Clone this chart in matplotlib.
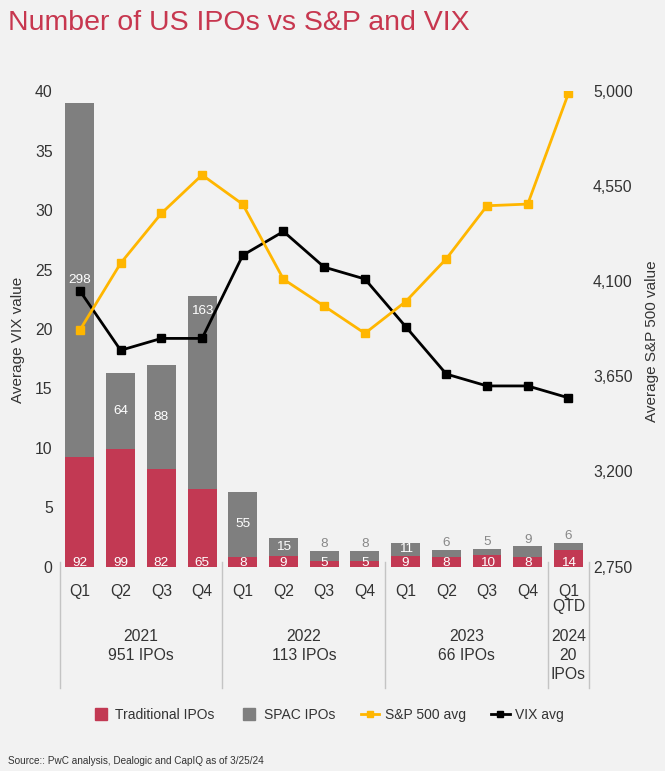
import numpy as np
import matplotlib
matplotlib.use('Agg')
import matplotlib.pyplot as plt
from matplotlib.lines import Line2D
from matplotlib.ticker import FuncFormatter

# data
quarters = ['Q1', 'Q2', 'Q3', 'Q4', 'Q1', 'Q2', 'Q3', 'Q4', 'Q1', 'Q2', 'Q3', 'Q4', 'Q1\nQTD']
years = ['2021\n951 IPOs', '2022\n113 IPOs', '2023\n66 IPOs', '2024\n20\nIPOs']
year_groups = [(0, 3), (4, 7), (8, 11), (12, 12)]
trad = [92, 99, 82, 65, 8, 9, 5, 5, 9, 8, 10, 8, 14]
spac = [298, 64, 88, 163, 55, 15, 8, 8, 11, 6, 5, 9, 6]
vix = [23.2, 18.2, 19.2, 19.2, 26.2, 28.2, 25.2, 24.2, 20.2, 16.2, 15.2, 15.2, 14.2]
sp500 = [3870, 4186, 4422, 4604, 4465, 4110, 3983, 3854, 4004, 4207, 4458, 4466, 4990]

bg = '#f2f2f2'
red = '#c23953'
gray = '#7f7f7f'
gold = '#ffb600'
txt = '#333333'

plt.rcParams['font.family'] = ['Liberation Sans', 'DejaVu Sans']

fig = plt.figure(figsize=(6.65, 7.71), dpi=100, facecolor=bg)
ax = fig.add_axes([0.0896, 0.2652, 0.7958, 0.6164])
ax.set_facecolor(bg)
ax2 = ax.twinx()

x = np.arange(len(quarters))
trad_h = np.array(trad) / 10
spac_h = np.array(spac) / 10
ax.bar(x, trad_h, width=0.71, color=red, zorder=2)
ax.bar(x, spac_h, width=0.71, bottom=trad_h, color=gray, zorder=2)

# bar labels
for i in x:
    ax.text(i, 0.08, str(trad[i]), ha='center', va='baseline', color='white', fontsize=9.7, zorder=3)
    top = trad_h[i] + spac_h[i]
    if spac[i] >= 10:
        if i == 3:
            ax.text(i, top - 0.8, str(spac[i]), ha='center', va='top', color='white', fontsize=9.7, zorder=3)
        else:
            ax.text(i, trad_h[i] + spac_h[i] / 2, str(spac[i]), ha='center', va='center',
                    color='white', fontsize=9.7, zorder=3)
    else:
        ax.text(i, top + 0.05, str(spac[i]), ha='center', va='bottom', color='#888888', fontsize=9.7, zorder=3)

ax.plot(x, vix, color='black', lw=2, marker='s', ms=6, zorder=4)
ax2.plot(x, sp500, color=gold, lw=2, marker='s', ms=6, zorder=4)

ax.set_xlim(-0.5, 12.5)
ax.set_ylim(0, 40)
ax2.set_ylim(2750, 5000)
ax.set_yticks(np.arange(0, 41, 5))
ax2.set_yticks([2750, 3200, 3650, 4100, 4550, 5000])
ax2.yaxis.set_major_formatter(FuncFormatter(lambda v, p: f'{v:,.0f}'))
ax.set_xticks([])

for a in (ax, ax2):
    for s in a.spines.values():
        s.set_visible(False)
    a.tick_params(length=0, labelsize=11.3, labelcolor=txt)
ax.tick_params(axis='y', pad=5)
ax2.tick_params(axis='y', pad=3)

ax.set_ylabel('Average VIX value', fontsize=11, color=txt)
ax.yaxis.set_label_coords(-0.0654, 0.477)
ax2.set_ylabel('Average S&P 500 value', fontsize=11, color=txt)
ax2.yaxis.set_label_coords(1.106, 0.475)

# category labels under the axis
tr = ax.get_xaxis_transform()
for i, q in enumerate(quarters):
    ax.text(i, -0.0368, q, transform=tr, ha='center', va='top', fontsize=11.3,
            color=txt, linespacing=1.0, clip_on=False)
for (a, b), yl in zip(year_groups, years):
    ax.text((a + b) / 2, -0.1315, yl, transform=tr, ha='center', va='top', fontsize=11.3,
            color=txt, linespacing=1.35, clip_on=False)
for sx in [-0.5, 3.5, 7.5, 11.5, 12.5]:
    ax.plot([sx, sx], [0.0095, -0.2557], transform=tr, color='#c4c4c4', lw=1, clip_on=False)

handles = [
    Line2D([], [], marker='s', ls='none', ms=9, color=red),
    Line2D([], [], marker='s', ls='none', ms=9, color=gray),
    Line2D([], [], marker='s', color=gold, lw=2, ms=4),
    Line2D([], [], marker='s', color='black', lw=2, ms=4),
]
fig.legend(handles, ['Traditional IPOs', 'SPAC IPOs', 'S&P 500 avg', 'VIX avg'],
           loc='center', bbox_to_anchor=(0.4925, 0.0726), ncol=4, frameon=False,
           fontsize=10, handlelength=1.35, handletextpad=0.4, columnspacing=1.8,
           labelcolor=txt)

fig.text(0.012, 0.961, 'Number of US IPOs vs S&P and VIX', fontsize=20.5, color='#c7374f',
         ha='left', va='baseline')
fig.text(0.012, 0.0095, 'Source:: PwC analysis, Dealogic and CapIQ as of 3/25/24', fontsize=7.2,
         color=txt, ha='left', va='baseline')

fig.savefig('out.png', dpi=100, facecolor=bg)
